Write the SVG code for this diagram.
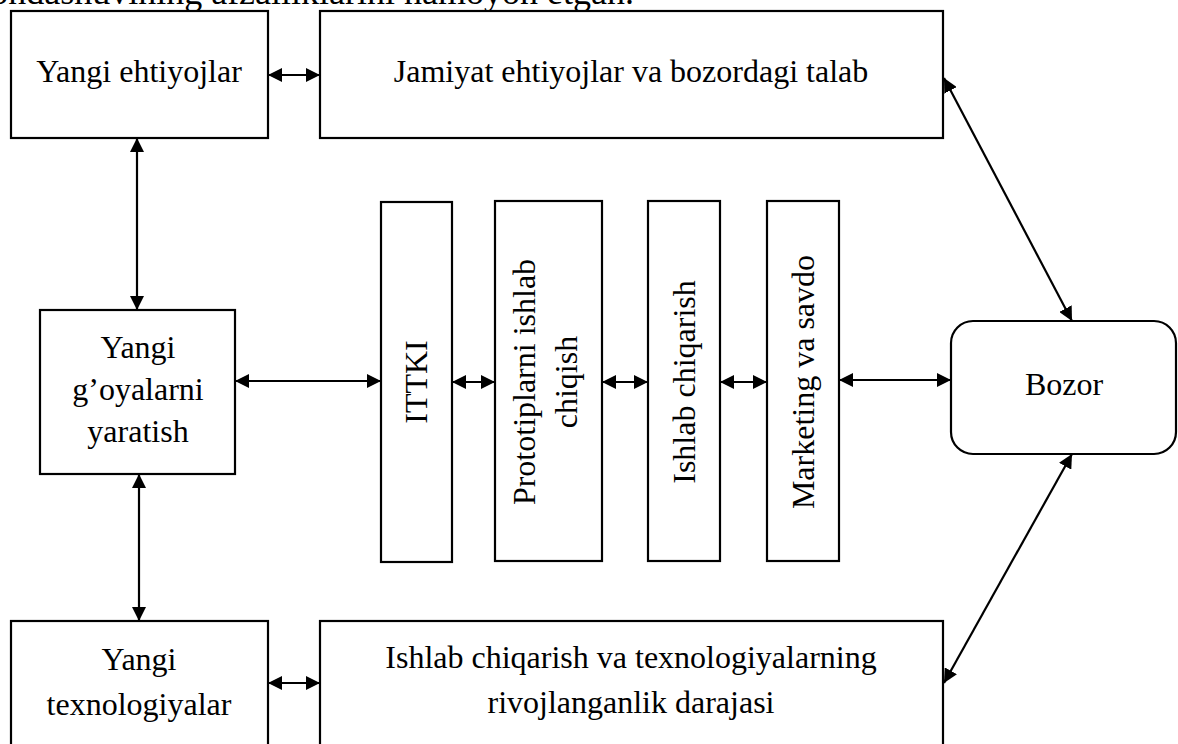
<svg xmlns="http://www.w3.org/2000/svg" width="1178" height="744" viewBox="0 0 1178 744">
  <style>
    .box { fill: #ffffff; stroke: #000000; stroke-width: 2.2; }
    .lbl { font-family: "Liberation Serif", "Times New Roman", serif; font-size: 32px; fill: #000000; }
    .mid { text-anchor: middle; }
    .link { stroke: #000000; stroke-width: 2.2; fill: none; marker-start: url(#head); marker-end: url(#head); }
  </style>
  <defs>
    <marker id="head" viewBox="0 0 14 14" refX="14" refY="7" markerWidth="14" markerHeight="14" markerUnits="userSpaceOnUse" orient="auto-start-reverse">
      <path d="M0,0 L14,7 L0,14 z" fill="#000000"/>
    </marker>
  </defs>

  <rect width="1178" height="744" fill="#ffffff"/>

  <!-- running text line cut by the top edge -->
  <text class="lbl" x="634" y="4" text-anchor="end" style="font-size:36px">yondashuvining afzalliklarini namoyon etgan.</text>

  <g id="connectors">
    <line class="link" x1="268" y1="75" x2="320" y2="75"/>
    <line class="link" x1="137" y1="138" x2="137" y2="310"/>
    <line class="link" x1="139" y1="474" x2="139" y2="621"/>
    <line class="link" x1="268" y1="683" x2="320" y2="683"/>
    <line class="link" x1="235" y1="381" x2="381" y2="381"/>
    <line class="link" x1="452" y1="382" x2="495" y2="382"/>
    <line class="link" x1="602" y1="382" x2="648" y2="382"/>
    <line class="link" x1="720" y1="382" x2="767" y2="382"/>
    <line class="link" x1="839" y1="380" x2="951" y2="380"/>
    <line class="link" x1="944" y1="78" x2="1072" y2="321"/>
    <line class="link" x1="1072" y1="454" x2="944" y2="683"/>
  </g>

  <g id="yangi-ehtiyojlar">
    <rect class="box" x="11" y="11" width="257" height="127"/>
    <text class="lbl mid" x="139" y="82">Yangi ehtiyojlar</text>
  </g>

  <g id="jamiyat-talab">
    <rect class="box" x="320" y="11" width="623" height="127"/>
    <text class="lbl mid" x="631" y="82">Jamiyat ehtiyojlar va bozordagi talab</text>
  </g>

  <g id="yangi-goyalar">
    <rect class="box" x="40" y="310" width="195" height="164"/>
    <text class="lbl mid" x="138" y="358">Yangi</text>
    <text class="lbl mid" x="138" y="400">g’oyalarni</text>
    <text class="lbl mid" x="138" y="442">yaratish</text>
  </g>

  <g id="ittki">
    <rect class="box" x="381" y="202" width="71" height="360"/>
    <text class="lbl mid" transform="translate(427,382) rotate(-90)">ITTKI</text>
  </g>

  <g id="prototiplar">
    <rect class="box" x="495" y="201" width="107" height="360"/>
    <text class="lbl mid" transform="translate(535,382) rotate(-90)">Prototiplarni ishlab</text>
    <text class="lbl mid" transform="translate(577,382) rotate(-90)">chiqish</text>
  </g>

  <g id="ishlab-chiqarish">
    <rect class="box" x="648" y="201" width="72" height="360"/>
    <text class="lbl mid" transform="translate(695,382) rotate(-90)">Ishlab chiqarish</text>
  </g>

  <g id="marketing">
    <rect class="box" x="767" y="201" width="72" height="360"/>
    <text class="lbl mid" transform="translate(814,382) rotate(-90)">Marketing va savdo</text>
  </g>

  <g id="bozor">
    <rect class="box" x="951" y="321" width="225" height="133" rx="22" ry="22"/>
    <text class="lbl mid" x="1064" y="395">Bozor</text>
  </g>

  <g id="yangi-texnologiyalar">
    <rect class="box" x="11" y="621" width="257" height="130"/>
    <text class="lbl mid" x="139" y="670">Yangi</text>
    <text class="lbl mid" x="139" y="715">texnologiyalar</text>
  </g>

  <g id="rivojlanganlik">
    <rect class="box" x="320" y="621" width="623" height="130"/>
    <text class="lbl mid" x="631" y="668">Ishlab chiqarish va texnologiyalarning</text>
    <text class="lbl mid" x="631" y="713">rivojlanganlik darajasi</text>
  </g>
</svg>
